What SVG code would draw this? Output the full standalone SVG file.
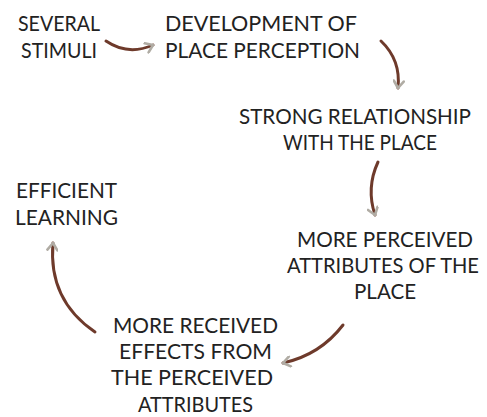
<svg xmlns="http://www.w3.org/2000/svg" width="487" height="417" viewBox="0 0 487 417">
  <defs>
    <style>
      .lbl { font-family: "Lato", "Liberation Sans", sans-serif; font-size: 22px; fill: #222; text-anchor: middle; }
      .flow { fill: none; stroke: #6e3a2b; stroke-width: 3; stroke-linecap: round; }
    </style>
    <marker id="tip" viewBox="0 0 12 12" refX="9" refY="6" markerWidth="12" markerHeight="12" markerUnits="userSpaceOnUse" orient="auto">
      <polyline points="2,1 9,6 2,11" fill="none" stroke="#b0aca4" stroke-width="2.6" stroke-linecap="round" stroke-linejoin="round"/>
    </marker>
  </defs>
  <rect width="487" height="417" fill="#fff"/>

  <g id="several-stimuli">
    <text class="lbl" x="59" y="31" textLength="82" lengthAdjust="spacingAndGlyphs">SEVERAL</text>
    <text class="lbl" x="59" y="58" textLength="76" lengthAdjust="spacingAndGlyphs">STIMULI</text>
  </g>
  <g id="place-perception">
    <text class="lbl" x="261" y="31" textLength="192" lengthAdjust="spacingAndGlyphs">DEVELOPMENT OF</text>
    <text class="lbl" x="262.5" y="58" textLength="195" lengthAdjust="spacingAndGlyphs">PLACE PERCEPTION</text>
  </g>
  <g id="strong-relationship">
    <text class="lbl" x="355" y="124" textLength="232" lengthAdjust="spacingAndGlyphs">STRONG RELATIONSHIP</text>
    <text class="lbl" x="360" y="150" textLength="154" lengthAdjust="spacingAndGlyphs">WITH THE PLACE</text>
  </g>
  <g id="perceived-attributes">
    <text class="lbl" x="385" y="247" textLength="176" lengthAdjust="spacingAndGlyphs">MORE PERCEIVED</text>
    <text class="lbl" x="383" y="273" textLength="192" lengthAdjust="spacingAndGlyphs">ATTRIBUTES OF THE</text>
    <text class="lbl" x="385" y="299" textLength="62" lengthAdjust="spacingAndGlyphs">PLACE</text>
  </g>
  <g id="received-effects">
    <text class="lbl" x="195.5" y="333" textLength="165" lengthAdjust="spacingAndGlyphs">MORE RECEIVED</text>
    <text class="lbl" x="195.5" y="359" textLength="153" lengthAdjust="spacingAndGlyphs">EFFECTS FROM</text>
    <text class="lbl" x="192" y="385" textLength="162" lengthAdjust="spacingAndGlyphs">THE PERCEIVED</text>
    <text class="lbl" x="195.5" y="412" textLength="115" lengthAdjust="spacingAndGlyphs">ATTRIBUTES</text>
  </g>
  <g id="efficient-learning">
    <text class="lbl" x="66.5" y="198" textLength="101" lengthAdjust="spacingAndGlyphs">EFFICIENT</text>
    <text class="lbl" x="66.5" y="225" textLength="103" lengthAdjust="spacingAndGlyphs">LEARNING</text>
  </g>

  <g id="connectors">
    <path class="flow" d="M 106 41 Q 128 56 153 45" marker-end="url(#tip)"/>
    <path class="flow" d="M 381 41 Q 401 60 398 88" marker-end="url(#tip)"/>
    <path class="flow" d="M 378 162 Q 366 188 375 215" marker-end="url(#tip)"/>
    <path class="flow" d="M 343 325 Q 320 355 283 363" marker-end="url(#tip)"/>
    <path class="flow" d="M 95 332 Q 48 300 53 243" marker-end="url(#tip)"/>
  </g>
</svg>
